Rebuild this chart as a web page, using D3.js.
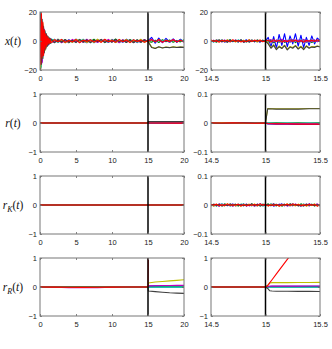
<!DOCTYPE html>
<html><head><meta charset="utf-8">
<script src="https://cdn.jsdelivr.net/npm/d3@7"></script>
<style>body{margin:0;background:#fff}svg{display:block}</style>
</head><body>
<svg id="c" width="332" height="349"></svg>
<script>
// ---------------- DATA ----------------
const switchTime = 15;
const seriesOrder = ["blue","green","cyan","magenta","yellow","dark","red"];

// x(t), left panel (t = 0..20)
const tLeftX = [0,0.1,0.2,0.3,0.4,0.5,0.6,0.7,0.8,0.9,1.0,1.1,1.2,1.3,1.4,1.5,
  2,2.5,3,3.5,4,4.5,5,5.5,6,6.5,7,7.5,8,8.5,9,9.5,10,10.5,11,11.5,12,12.5,13,13.5,14,14.5,
  15,15.5,16,16.5,17,17.5,18,18.5,19,19.5,20];
const xLeftBlue = [5,-19,16,-14,11,-9,7,-6,5,-4,3.5,-3,2.5,-2,1.8,-1.5,
  1.2,-0.8,0.5,-1.1,0.9,-0.4,1.3,-0.9,0.3,-1.2,0.8,-0.6,1.0,-0.3,0.7,-1.0,1.1,-0.5,0.4,-0.9,1.2,-0.7,0.6,-1.1,0.9,-0.4,
  0.3,2.5,-1.5,2.0,-1.2,1.8,-0.8,1.5,-1.0,1.2,-0.6];
const xLeftGreen = [-20,18,-15,12,-10,8,-6.5,5,-4.5,3.5,-3,2.5,-2,1.8,-1.4,1.2,
  -0.9,1.3,-0.4,0.8,-1.2,0.6,-0.7,1.1,-1.0,0.5,-0.3,1.2,-0.8,0.9,-1.1,0.4,-0.6,1.4,-0.9,0.2,-0.8,1.0,-0.5,0.7,-1.0,0.6,
  -0.4,-0.8,0.6,-1.0,0.9,-0.5,0.7,-0.9,0.4,-0.6,0.8];
const xLeftCyan = [-14,16,-18,13,-11,9,-7,6,-5,4,-3.2,2.8,-2.2,1.9,-1.6,1.3,
  0.6,-1.1,1.0,-0.5,0.3,-0.9,0.8,-0.4,1.2,-0.7,0.9,-1.3,0.5,-0.2,1.0,-0.8,0.3,-1.0,0.7,-0.6,1.1,-0.3,0.8,-0.9,0.4,-0.7,
  0.5,0.9,-0.7,1.1,-0.4,0.8,-1.0,0.6,-0.5,0.9,-0.3];
const xLeftMagenta = [18,-12,14,-15,9,-8,8,-5,4.5,-4,3,-2.8,2.2,-1.8,1.5,-1.2,
  -0.5,0.9,-1.2,0.4,-0.8,1.1,-0.3,0.7,-0.9,1.2,-0.6,0.3,-1.0,0.8,-0.4,1.1,-0.7,0.5,-1.2,0.9,-0.2,0.6,-1.0,0.4,-0.8,1.0,
  -0.6,1.2,-0.5,0.7,-0.9,0.4,-0.7,1.0,-0.3,0.6,-0.8];
const xLeftYellow = [20,-20,17,-12,12,-9,6,-6.5,4,-4.2,3.4,-2.6,2.4,-1.9,1.3,-1.4,
  1.0,-0.6,0.8,-1.3,0.5,-0.9,1.2,-0.2,0.6,-1.0,0.4,-0.8,1.3,-0.5,0.9,-0.3,0.8,-1.1,0.6,-0.4,1.0,-0.9,0.3,-0.6,1.2,-0.8,
  0.2,-4.2,-5.0,-4.1,-4.6,-4.2,-4.5,-4.0,-4.4,-4.1,-4.3];
const xLeftDark = [-8,20,-16,15,-12,10,-8,7,-5.5,5,-3.8,3.2,-2.6,2.1,-1.7,1.5,
  -1.2,0.7,-0.9,1.0,-0.6,0.4,-1.1,0.9,-0.5,0.8,-1.2,0.6,-0.4,1.1,-0.9,0.3,-0.8,1.0,-0.3,0.7,-1.0,0.5,-1.2,0.9,-0.6,0.8,
  -0.3,-4.5,-5.2,-4.0,-4.8,-4.3,-4.6,-4.1,-4.5,-4.2,-4.4];
const xLeftRed = [10,-16,19,-11,13,-10,7.5,-5.5,5,-3.6,3.2,-2.4,2.1,-1.6,1.4,-1.1,
  0.8,-0.5,1.1,-0.9,0.4,-0.7,1.0,-1.2,0.6,-0.3,0.9,-0.8,0.5,-1.0,1.2,-0.6,0.4,-0.9,1.1,-0.5,0.7,-1.1,0.9,-0.3,0.6,-0.9,
  0.4,0.8,-0.6,1.0,-0.8,0.6,-0.4,0.9,-0.7,0.5,-0.6];

// x(t), right panel (t = 14.5..15.5)
const tRightX = [14.5,14.525,14.55,14.575,14.6,14.625,14.65,14.675,14.7,14.725,14.75,14.775,14.8,14.825,14.85,14.875,14.9,14.925,14.95,14.975,
  15,15.025,15.05,15.075,15.1,15.125,15.15,15.175,15.2,15.225,15.25,15.275,15.3,15.325,15.35,15.375,15.4,15.425,15.45,15.475,15.5];
const xRightBlue = [0.4,-0.6,0.8,-0.3,0.5,-0.8,0.2,0.7,-0.5,0.3,-0.7,0.6,-0.2,0.8,-0.4,0.5,-0.6,0.3,-0.8,0.4,0.1,
  2.5,-4,3,-5,4.5,-3,5,-4,3.5,-2,5,-3.5,4,-4.5,2.5,-3,3.5,-2,2,0.5];
const xRightGreen = [-0.5,0.3,-0.9,0.6,-0.2,0.4,-0.7,0.9,-0.3,0.2,-0.6,0.8,-1.0,0.3,-0.5,0.7,-0.4,0.6,-0.2,0.5,-0.3,
  -0.8,0.5,-1.2,0.3,-0.9,0.6,-1.0,0.2,-0.7,0.8,-1.1,0.4,-0.6,0.9,-0.8,0.3,-1.0,0.5,-0.4,0.2];
const xRightCyan = [0.2,-0.8,0.5,-0.4,0.9,-0.2,0.6,-0.7,0.3,-0.5,0.8,-0.3,0.4,-0.9,0.6,-0.1,0.5,-0.7,0.3,-0.4,0.2,
  0.6,-0.5,0.9,-0.3,0.7,-0.8,0.4,-0.2,1.0,-0.6,0.3,-0.4,0.8,-0.7,0.5,-0.2,0.6,-0.9,0.3,0.1];
const xRightMagenta = [-0.3,0.6,-0.4,0.2,-0.7,0.8,-0.5,0.3,-0.2,0.7,-0.4,0.5,-0.8,0.2,-0.3,0.6,-0.5,0.1,-0.6,0.4,-0.2,
  0.4,1.0,-0.6,0.8,-0.3,1.2,-0.5,0.6,-0.8,0.9,-0.2,0.7,-0.4,1.1,-0.6,0.5,-0.3,0.8,-0.5,0.3];
const xRightYellow = [0.5,-0.3,0.7,-0.6,0.2,-0.5,0.8,-0.2,0.4,-0.7,0.3,-0.4,0.6,-0.5,0.9,-0.3,0.2,-0.6,0.5,-0.2,0.0,
  -1.5,-4.5,-2.5,-5.5,-3.5,-4.8,-2.8,-5.8,-3.8,-4.5,-3.0,-5.2,-3.6,-5.5,-3.2,-4.6,-3.8,-4.0,-3.4,-3.8];
const xRightDark = [-0.6,0.4,-0.2,0.8,-0.5,0.3,-0.9,0.5,-0.3,0.6,-0.2,0.7,-0.6,0.4,-0.8,0.2,-0.4,0.7,-0.3,0.5,-0.1,
  -2.0,-5.0,-3.0,-6.0,-4.0,-5.2,-3.2,-6.2,-4.2,-5.0,-3.4,-5.6,-4.0,-6.0,-3.6,-5.0,-4.2,-4.4,-3.6,-4.2];
const xRightRed = [0.7,-0.4,0.3,-0.8,0.6,-0.2,0.5,-0.6,0.9,-0.3,0.4,-0.7,0.2,-0.5,0.8,-0.4,0.6,-0.2,0.7,-0.5,0.2,
  0.5,-0.7,0.9,-0.4,0.6,-0.8,0.3,-0.5,0.8,-0.3,0.7,-0.6,0.4,-0.9,0.5,-0.2,0.6,-0.4,0.8,-0.3];

// r(t)
const tLeftR = [0,15,15.05,20];
const rLeftBlue = [0,0,-0.004,-0.004];
const rLeftGreen = [0,0,0.001,0.001];
const rLeftCyan = [0,0,0,0];
const rLeftMagenta = [0,0,-0.002,-0.003];
const rLeftYellow = [0,0,0.05,0.05];
const rLeftDark = [0,0,0.048,0.049];
const rLeftRed = [0,0,-0.002,-0.004];
const tRightR = [14.5,14.6,14.7,14.8,14.9,15.0,15.02,15.1,15.2,15.3,15.4,15.5];
const rRightBlue = [0.001,-0.001,0.001,0,-0.001,0,-0.003,-0.004,-0.004,-0.005,-0.005,-0.005];
const rRightGreen = [0,0.001,-0.001,0.001,0,0,0,0.001,0,0.001,0,0.001];
const rRightCyan = [-0.001,0,0.001,-0.001,0.001,0,0,-0.001,0,-0.001,0,-0.001];
const rRightMagenta = [0.001,0,-0.001,0,0.001,0,-0.001,-0.002,-0.002,-0.003,-0.003,-0.003];
const rRightYellow = [0,0.001,0,-0.001,0,0,0.05,0.049,0.049,0.049,0.05,0.05];
const rRightDark = [0,-0.001,0,0.001,0,0,0.049,0.048,0.048,0.048,0.049,0.049];
const rRightRed = [0,0,0.001,0,-0.001,0,-0.002,-0.003,-0.003,-0.004,-0.004,-0.004];

// r_K(t) (right panel values in thousandths)
const tLeftK = [0,20];
const kLeftFlat = [0,0];
const kRightBlueMilli = [2,-3,1,-4,3,-1,2,-2,4,-3,1,-1,3,-4,2,-2,1,-3,4,-1,2,-2,3,-4,1,-1,4,-3,2,-1,3,-2,1,-4,2,-3,4,-1,2,-2,1];
const kRightGreenMilli = [-1,2,-4,3,-2,4,-1,1,-3,2,-4,3,-1,2,-2,4,-3,1,-2,3,-1,4,-2,1,-3,2,-4,1,-2,3,-1,2,-3,4,-1,1,-2,3,-4,2,-1];
const kRightCyanMilli = [3,-2,1,-1,4,-3,2,-4,1,-2,3,-1,4,-2,1,-3,2,-1,3,-4,1,-2,4,-1,3,-3,1,-2,2,-4,3,-1,1,-3,4,-2,1,-1,3,-2,2];
const kRightMagentaMilli = [-3,1,-2,4,-1,2,-3,3,-4,1,-1,2,-2,4,-3,1,-4,3,-1,2,-3,1,-1,4,-2,3,-1,2,-4,1,-3,4,-2,1,-1,3,-4,2,-1,4,-2];
const kRightYellowMilli = [1,-4,3,-2,1,-3,4,-1,2,-3,1,-4,2,-1,3,-2,4,-3,1,-1,2,-4,3,-2,1,-3,2,-1,4,-2,1,-3,3,-1,2,-4,1,-2,4,-3,1];
const kRightDarkMilli = [-2,3,-1,2,-4,1,-2,4,-1,3,-2,1,-3,2,-1,4,-2,3,-4,1,-1,2,-3,4,-2,1,-1,3,-2,4,-1,2,-3,1,-4,3,-1,2,-2,1,-3];
const kRightRedMilli = [2,-1,3,-3,1,-2,4,-2,1,-1,3,-4,2,-3,1,-1,2,-2,4,-1,3,-3,1,-2,2,-4,1,-1,3,-2,4,-1,2,-3,1,-2,3,-1,2,-4,1];

// r_R(t)
const tLeftRR = [0,2,4,6,8,10,12,14,15,15.05,16,17,18,19,20];
const rrLeftBlue = [0,0,0,0,0,0,0,0,0,0.03,0.04,0.04,0.045,0.045,0.05];
const rrLeftGreen = [0,0,0,0,0,0,0,0,0,0.005,0.005,0.005,0.005,0.005,0.005];
const rrLeftCyan = [0,0,0,0,0,0,0,0,0,-0.005,-0.005,-0.005,-0.005,-0.005,-0.005];
const rrLeftMagenta = [0,-0.01,-0.02,-0.025,-0.02,-0.01,0,0,0,0.04,0.045,0.05,0.05,0.055,0.055];
const rrLeftYellow = [0,0,0,0,0,0,0,0,0,0.14,0.17,0.19,0.21,0.23,0.25];
const rrLeftDark = [0,0,0,0,0,0,0,0,0,-0.14,-0.16,-0.18,-0.2,-0.21,-0.22];
const rrLeftRed = [0,-0.005,-0.01,-0.012,-0.01,-0.005,0,0,0,1.3,6,11,16,21,26];
const tRightRR = [14.5,15.0,15.02,15.04,15.06,15.1,15.2,15.3,15.4,15.5];
const rrRightBlue = [0,0,0.01,0.02,0.02,0.02,0.02,0.02,0.022,0.022];
const rrRightGreen = [0,0,0,0.005,0.005,0.005,0.005,0.005,0.005,0.005];
const rrRightCyan = [0,0,0,-0.005,-0.005,-0.005,-0.005,-0.005,-0.005,-0.005];
const rrRightMagenta = [0,0,0.01,0.025,0.03,0.03,0.03,0.03,0.032,0.032];
const rrRightYellow = [0,0,0.06,0.14,0.15,0.15,0.152,0.155,0.157,0.16];
const rrRightDark = [0,0,-0.05,-0.13,-0.14,-0.145,-0.148,-0.15,-0.152,-0.155];
const rrRightRed = [0,0,0.05,0.15,0.25,0.45,0.95,1.45,1.95,2.45];

// axis ticks
const leftXTicks = [0,5,10,15,20];
const rightXTicks = [14.5,15,15.5];
const xStateTicks = [-20,0,20];
const unitTicks = [-1,0,1];
const smallTicks = [-0.1,0,0.1];
const rowLabels = [["x","(","t",")"],["r","(","t",")"],["r","K","(","t",")"],["r","R","(","t",")"]];

// ---------------- STYLE ----------------
const colors = {blue:"#0000ff",green:"#008000",cyan:"#00bfbf",magenta:"#bf00bf",yellow:"#bfbf00",dark:"#404040",red:"#ff0000"};
const milli = a => a.map(v => v/1000);

const panels = [
  {row:0, side:0, xd:[0,20], yd:[-20,20], xt:leftXTicks, yt:xStateTicks, t:tLeftX,
   s:{blue:xLeftBlue,green:xLeftGreen,cyan:xLeftCyan,magenta:xLeftMagenta,yellow:xLeftYellow,dark:xLeftDark,red:xLeftRed}},
  {row:0, side:1, xd:[14.5,15.5], yd:[-20,20], xt:rightXTicks, yt:xStateTicks, t:tRightX,
   s:{blue:xRightBlue,green:xRightGreen,cyan:xRightCyan,magenta:xRightMagenta,yellow:xRightYellow,dark:xRightDark,red:xRightRed}},
  {row:1, side:0, xd:[0,20], yd:[-1,1], xt:leftXTicks, yt:unitTicks, t:tLeftR,
   s:{blue:rLeftBlue,green:rLeftGreen,cyan:rLeftCyan,magenta:rLeftMagenta,yellow:rLeftYellow,dark:rLeftDark,red:rLeftRed}},
  {row:1, side:1, xd:[14.5,15.5], yd:[-0.1,0.1], xt:rightXTicks, yt:smallTicks, t:tRightR,
   s:{blue:rRightBlue,green:rRightGreen,cyan:rRightCyan,magenta:rRightMagenta,yellow:rRightYellow,dark:rRightDark,red:rRightRed}},
  {row:2, side:0, xd:[0,20], yd:[-1,1], xt:leftXTicks, yt:unitTicks, t:tLeftK,
   s:{blue:kLeftFlat,green:kLeftFlat,cyan:kLeftFlat,magenta:kLeftFlat,yellow:kLeftFlat,dark:kLeftFlat,red:kLeftFlat}},
  {row:2, side:1, xd:[14.5,15.5], yd:[-0.1,0.1], xt:rightXTicks, yt:smallTicks, t:tRightX,
   s:{blue:milli(kRightBlueMilli),green:milli(kRightGreenMilli),cyan:milli(kRightCyanMilli),magenta:milli(kRightMagentaMilli),
      yellow:milli(kRightYellowMilli),dark:milli(kRightDarkMilli),red:milli(kRightRedMilli)}},
  {row:3, side:0, xd:[0,20], yd:[-1,1], xt:leftXTicks, yt:unitTicks, t:tLeftRR,
   s:{blue:rrLeftBlue,green:rrLeftGreen,cyan:rrLeftCyan,magenta:rrLeftMagenta,yellow:rrLeftYellow,dark:rrLeftDark,red:rrLeftRed}},
  {row:3, side:1, xd:[14.5,15.5], yd:[-1,1], xt:rightXTicks, yt:unitTicks, t:tRightRR,
   s:{blue:rrRightBlue,green:rrRightGreen,cyan:rrRightCyan,magenta:rrRightMagenta,yellow:rrRightYellow,dark:rrRightDark,red:rrRightRed}}
];

// ---------------- LAYOUT ----------------
const rowTop = [12, 94, 176, 258];
const panelH = 58;
const colX = [[40, 184], [211, 320]];
const fmt = d => (d < 0 ? "\u2212" : "") + Math.abs(d);
const svg = d3.select("#c");
svg.append("rect").attr("width",332).attr("height",349).attr("fill","#fff");

panels.forEach((p, i) => {
  const [x0, x1] = colX[p.side];
  const y0 = rowTop[p.row], y1 = y0 + panelH;
  const x = d3.scaleLinear().domain(p.xd).range([x0, x1]);
  const y = d3.scaleLinear().domain(p.yd).range([y1, y0]);
  const g = svg.append("g");
  const cid = "clip" + i;
  svg.append("clipPath").attr("id", cid).append("rect")
    .attr("x", x0).attr("y", y0).attr("width", x1 - x0).attr("height", panelH);

  const dg = g.append("g").attr("clip-path", `url(#${cid})`);
  const line = d3.line().x((d, j) => x(p.t[j])).y(d => y(d));
  seriesOrder.forEach(name => {
    dg.append("path").datum(p.s[name]).attr("d", line)
      .attr("fill","none").attr("stroke", colors[name])
      .attr("stroke-width", 1.1).attr("stroke-linejoin","round");
  });
  // switching time marker
  dg.append("line").attr("x1", x(switchTime)).attr("x2", x(switchTime))
    .attr("y1", y0).attr("y2", y1).attr("stroke","#000").attr("stroke-width",1.5);

  // axes
  const styleAxis = sel => {
    sel.select(".domain").remove();
    sel.selectAll(".tick line").attr("stroke","#666").attr("stroke-width",0.8);
    sel.selectAll("text").attr("font-family","'Liberation Sans', Arial, sans-serif")
      .attr("font-size","7.5px").attr("fill","#222");
  };
  g.append("g").attr("transform",`translate(0,${y1})`)
    .call(d3.axisBottom(x).tickValues(p.xt).tickFormat(fmt).tickSizeInner(-2).tickSizeOuter(0).tickPadding(5.5))
    .call(styleAxis);
  g.append("g").attr("transform",`translate(0,${y0})`)
    .call(d3.axisTop(x).tickValues(p.xt).tickFormat("").tickSizeInner(-2).tickSizeOuter(0))
    .call(styleAxis);
  g.append("g").attr("transform",`translate(${x0},0)`)
    .call(d3.axisLeft(y).tickValues(p.yt).tickFormat(fmt).tickSizeInner(-2).tickSizeOuter(0).tickPadding(3))
    .call(styleAxis)
    .call(sel => sel.selectAll("text").attr("dy","0.28em"));
  g.append("g").attr("transform",`translate(${x1},0)`)
    .call(d3.axisRight(y).tickValues(p.yt).tickFormat("").tickSizeInner(-2).tickSizeOuter(0))
    .call(styleAxis);
  g.append("rect").attr("x", x0).attr("y", y0).attr("width", x1 - x0).attr("height", panelH)
    .attr("fill","none").attr("stroke","#777").attr("stroke-width",1);
});

// row labels (math italic)
rowLabels.forEach((parts, r) => {
  const cy = rowTop[r] + panelH / 2 + 4;
  const t = svg.append("text").attr("x", 13).attr("y", cy).attr("text-anchor","middle")
    .attr("font-family","'Liberation Serif', 'DejaVu Serif', serif").attr("font-size","11.5px").attr("fill","#111");
  parts.forEach((s, k) => {
    const isSub = parts.length === 5 && k === 1;
    const isParen = s === "(" || s === ")";
    const ts = t.append("tspan").text(s).attr("font-style", isParen ? "normal" : "italic");
    if (isSub) ts.attr("font-size","8px").attr("dy", 2.5);
    if (parts.length === 5 && k === 2) ts.attr("dy", -2.5);
  });
});
</script>
</body></html>
